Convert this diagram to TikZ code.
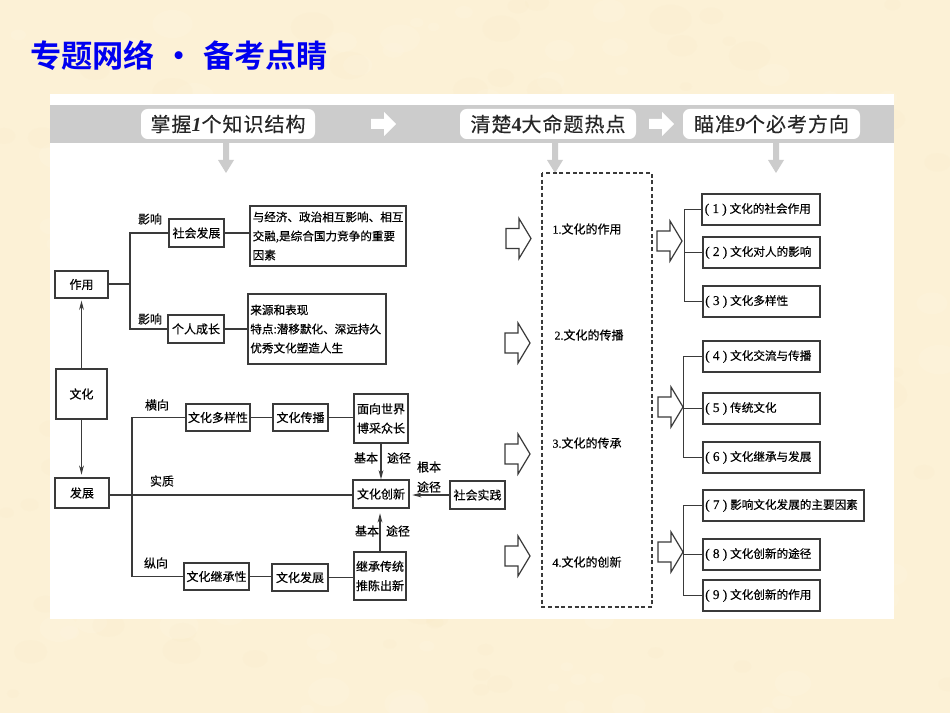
\documentclass[tikz,border=0pt]{standalone}
\usepackage{fontspec}
\usetikzlibrary{arrows.meta}
\setmainfont{Noto Sans CJK SC}[FakeBold=0.35]
\newfontfamily\titlefont{Noto Sans CJK SC Bold}
\newfontfamily\serdigit{Liberation Serif}[FakeBold=0.3]
\newfontfamily\serhead{Liberation Serif}[BoldItalicFont=* Bold Italic]
\newfontfamily\headfont{Noto Sans CJK SC}[LetterSpace=5,FakeBold=0.2]
\definecolor{parch}{HTML}{FCF1D6}
\definecolor{parchlight}{HTML}{FEF5E0}
\definecolor{parchdark}{HTML}{FAEBC9}
\definecolor{band}{HTML}{CCCCCC}
\definecolor{ink}{HTML}{3A3A3A}
\definecolor{titleblue}{HTML}{0000F0}
\tikzset{
  boxnode/.style={draw=ink,line width=0.9pt,fill=white,inner sep=0pt,font=\fontsize{9}{11}\selectfont,text=black,align=center},
  lefttext/.style={align=left,font=\fontsize{8.7}{14.3}\selectfont},
  wire/.style={draw=ink,line width=0.9pt},
  arrowwire/.style={wire,-{Stealth[length=7pt,width=3.6pt]}},
  lbl/.style={inner sep=0pt,font=\fontsize{9}{11}\selectfont,text=black},
  hot/.style={inner sep=0pt,font=\fontsize{9}{11}\selectfont,text=black},
  pill/.style={fill=white,rounded corners=5pt,inner sep=0pt,font=\headfont\fontsize{15}{17}\selectfont,text=black!85},
  blockarrow/.style={draw=ink,line width=0.9pt,fill=white,line join=miter},
  grayarrow/.style={fill=band,draw=none},
  whitearrow/.style={fill=white,draw=none},
}
\newcommand\bx[7][]{%
  \pgfmathsetmacro\cxx{(#3+#5)/2}\pgfmathsetmacro\cyy{(#4+#6)/2}%
  \pgfmathsetmacro\ww{(#5-#3)*0.75}\pgfmathsetmacro\hh{(#6-#4)*0.75}%
  \node[boxnode,minimum width=\ww pt,minimum height=\hh pt,#1] (#2) at (\cxx,\cyy) {#7};}
\newcommand\blockarr[2]{\draw[blockarrow,shift={(#1,#2)}] (0,-10)--(13,-10)--(13,-20)--(25,0)--(13,20)--(13,10)--(0,10)--cycle;}
\newcommand\grayarr[2]{\fill[grayarrow,shift={(#1,#2)}] (-3,0)--(3,0)--(3,17)--(8,17)--(0,30)--(-8,17)--(-3,17)--cycle;}
\newcommand\whitearr[2]{\fill[whitearrow,shift={(#1,#2)}] (0,-5)--(13,-5)--(13,-12)--(25,0)--(13,12)--(13,5)--(0,5)--cycle;}
\newcommand\rtext[2]{\hspace*{0.8pt}\makebox[16.5pt][s]{\serdigit\fontsize{10}{11}\selectfont(\hfil #1\hfil)}\hspace{2.2pt}#2}
\begin{document}
\begin{tikzpicture}[x=0.75pt,y=-0.75pt]
\useasboundingbox (0,0) rectangle (950,713);
\fill[parch] (0,0) rectangle (950,713);
% parchment mottling
\pgfmathsetseed{7}
\begin{scope}
\clip (0,0) rectangle (950,713);
\foreach \i in {1,...,260}{
  \pgfmathsetmacro\px{rnd*950}\pgfmathsetmacro\py{rnd*713}\pgfmathsetmacro\pr{6+rnd*16}
  \pgfmathtruncatemacro\pc{int(rnd*2)}
  \ifnum\pc=0 \fill[parchlight,opacity=.3] (\px,\py) ellipse ({\pr} and {\pr*.7});
  \else \fill[parchdark,opacity=.22] (\px,\py) ellipse ({\pr} and {\pr*.7}); \fi
}
\end{scope}
% title
\node[anchor=west,inner sep=0pt,text=titleblue,font=\titlefont\fontsize{23.4}{26}\selectfont] (title) at (30,55.5)
  {专题网络\makebox[36pt][c]{·}备考点睛};
% panel
\fill[white] (50,94) rectangle (894,619);
\fill[band] (50,105) rectangle (894,143);
\node[pill,minimum width=130.5pt,minimum height=22.5pt] (h1) at (228,124) {掌握{\serhead\bfseries\itshape 1}个知识结构};
\node[pill,minimum width=132pt,minimum height=22.5pt] (h2) at (548,124) {清楚{\serhead\bfseries 4}大命题热点};
\node[pill,minimum width=132.75pt,minimum height=22.5pt] (h3) at (771.5,124) {瞄准{\serhead\bfseries\itshape 9}个必考方向};
\whitearr{371}{124}
\whitearr{649}{124}
\grayarr{226}{143}
\grayarr{555}{143}
\grayarr{776}{143}
% left column
\bx{zuoyong}{55}{271}{108}{298}{作用}
\bx{wenhua}{56}{369}{107}{419}{文化}
\bx{fazhan}{55}{478}{109}{508}{发展}
\bx{shehui}{169}{219}{224}{247}{社会发展}
\bx[lefttext,text width=113pt]{jingji}{250}{206}{406}{266}{与经济、政治相互影响、相互\\交融,是综合国力竞争的重要\\因素}
\bx{geren}{168}{315}{224}{343}{个人成长}
\bx[lefttext,text width=100pt]{laiyuan}{248}{294}{386}{364}{来源和表现\\特点:潜移默化、深远持久\\优秀文化塑造人生}
\bx{duoyang}{186}{404}{250}{431}{文化多样性}
\bx{chuanbo}{273}{404}{328}{431}{文化传播}
\bx[font=\fontsize{9}{14.5}\selectfont]{mianxiang}{354}{394}{408}{443}{面向世界\\博采众长}
\bx{chuangxin}{353}{480}{409}{508}{文化创新}
\bx{shijian}{450}{481}{505}{509}{社会实践}
\bx{jicheng}{184}{563}{249}{590}{文化继承性}
\bx{fazhanb}{272}{564}{328}{591}{文化发展}
\bx[font=\fontsize{9}{14.5}\selectfont]{tuichen}{354}{552}{406}{600}{继承传统\\推陈出新}
% left connectors
\draw[arrowwire,shorten >=1.5pt] (wenhua.north) -- (zuoyong.south);
\draw[arrowwire,shorten >=2pt] (wenhua.south) -- (wenhua.south |- fazhan.north);
\coordinate (topfork) at (130,284);
\draw[wire] (zuoyong.east |- topfork) -- (topfork);
\draw[wire] (shehui.west) -| (topfork);
\draw[wire] (geren.west) -| (topfork);
\draw[wire] (shehui.east) -- (shehui.east -| jingji.west);
\draw[wire] (geren.east) -- (geren.east -| laiyuan.west);
\coordinate (midfork) at (132,495);
\draw[wire] (fazhan.east |- midfork) -- (midfork -| chuangxin.west);
\draw[wire] (duoyang.west) -| (midfork);
\draw[wire] (jicheng.west) -| (midfork);
\draw[wire] (duoyang.east) -- (duoyang.east -| chuanbo.west);
\draw[wire] (chuanbo.east) -- (chuanbo.east -| mianxiang.west);
\draw[wire] (jicheng.east) -- (jicheng.east -| fazhanb.west);
\draw[wire] (fazhanb.east) -- (fazhanb.east -| tuichen.west);
\draw[arrowwire] (mianxiang.south) -- (mianxiang.south |- chuangxin.north);
\draw[arrowwire,shorten >=3.5pt] (tuichen.north) -- (tuichen.north |- chuangxin.south);
\draw[arrowwire,shorten >=2pt] (shijian.west) -- (shijian.west -| chuangxin.east);
% left labels
\node[lbl] (l1) at (150,219) {影响};
\node[lbl] (l2) at (150,319) {影响};
\node[lbl] (l3) at (157,405) {横向};
\node[lbl] (l4) at (162,481) {实质};
\node[lbl] (l5) at (156,563) {纵向};
\node[lbl] (l6) at (366,458) {基本};
\node[lbl] (l7) at (399,458) {途径};
\node[lbl] (l8) at (429,467) {根本};
\node[lbl] (l9) at (429,487) {途径};
\node[lbl] (l10) at (367,531) {基本};
\node[lbl] (l11) at (398,531) {途径};
% middle
\blockarr{506}{238.5}
\blockarr{505}{343}
\blockarr{505}{454}
\blockarr{505}{556}
\draw[ink,line width=0.8pt,dash pattern=on 3pt off 2pt] (542,173) rectangle (652,607);
\node[hot] (t1) at (587,229) {{\serdigit 1.}文化的作用};
\node[hot] (t2) at (589,335) {{\serdigit 2.}文化的传播};
\node[hot] (t3) at (587,443) {{\serdigit 3.}文化的传承};
\node[hot] (t4) at (587,562) {{\serdigit 4.}文化的创新};
% right
\blockarr{657}{241}
\blockarr{658}{407}
\blockarr{658}{552}
\bx[lefttext,text width=86pt]{r1}{702}{194}{820}{225}{\rtext{1}{文化的社会作用}}
\bx[lefttext,text width=86pt]{r2}{703}{237}{820}{268}{\rtext{2}{文化对人的影响}}
\bx[lefttext,text width=86pt]{r3}{703}{286}{820}{317}{\rtext{3}{文化多样性}}
\bx[lefttext,text width=86pt]{r4}{703}{341}{820}{372}{\rtext{4}{文化交流与传播}}
\bx[lefttext,text width=86pt]{r5}{703}{393}{820}{424}{\rtext{5}{传统文化}}
\bx[lefttext,text width=86pt]{r6}{703}{442}{820}{473}{\rtext{6}{文化继承与发展}}
\bx[lefttext,text width=119pt]{r7}{703}{490}{864}{521}{\rtext{7}{影响文化发展的主要因素}}
\bx[lefttext,text width=86pt]{r8}{703}{539}{820}{570}{\rtext{8}{文化创新的途径}}
\bx[lefttext,text width=86pt]{r9}{703}{580}{820}{611}{\rtext{9}{文化创新的作用}}
\draw[wire] (r1.west) -- ++(-17,0) |- (r3.west);
\draw[wire] (r2.west) -- ++(-18,0);
\draw[wire] (r4.west) -- ++(-19,0) |- (r6.west);
\draw[wire] (r5.west) -- ++(-19,0);
\draw[wire] (r7.west) -- ++(-19,0) |- (r9.west);
\draw[wire] (r8.west) -- ++(-19,0);
\end{tikzpicture}
\end{document}
